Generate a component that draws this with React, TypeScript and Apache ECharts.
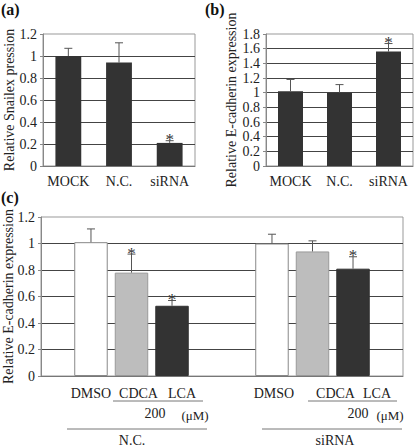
import React, { useEffect, useRef } from "react";
import * as echarts from "echarts";

// Panel (a)
const aCategories = ["MOCK", "N.C.", "siRNA"];
const aValues = [1.0, 0.94, 0.21];
const aErrTop = [1.07, 1.12, 0.23];
const aStars = [0, 0, 1];
const aTicks = { min: 0, max: 1.2, interval: 0.2 };

// Panel (b)
const bCategories = ["MOCK", "N.C.", "siRNA"];
const bValues = [1.02, 1.0, 1.56];
const bErrTop = [1.18, 1.11, 1.67];
const bStars = [0, 0, 1];
const bTicks = { min: 0, max: 1.8, interval: 0.2 };

// Panel (c)
const cGroups = ["N.C.", "siRNA"];
const cTreatments = ["DMSO", "CDCA", "LCA"];
const cDMSO = [1.01, 1.0];
const cCDCA = [0.78, 0.94];
const cLCA = [0.53, 0.81];
const cDMSOErr = [1.11, 1.07];
const cCDCAErr = [0.92, 1.02];
const cLCAErr = [0.57, 0.9];
const cDMSOStars = [0, 0];
const cCDCAStars = [1, 0];
const cLCAStars = [1, 1];
const cTicks = { min: 0, max: 1.2, interval: 0.2 };

const FONT = "Liberation Serif";
const BAR_W = 0.185;
const BAR_GAP = 0.21;
// horizontal label shifts (px) per treatment, per group — styling only
const cLabelShift = [
  [0, 2],
  [7, 23],
  [10, 24],
];

function errRender(params: any, api: any) {
  const cat = api.value(0);
  const val = api.value(1);
  const top = api.value(2);
  const k = api.value(3);
  const star = api.value(4);
  const p0 = api.coord([cat, val]);
  const p1 = api.coord([cat, top]);
  let dx = 0;
  if (k >= 0) {
    const band = api.size([1, 0])[0];
    const bw = band * BAR_W;
    dx = (k - 1) * bw * (1 + BAR_GAP);
  }
  const x = p0[0] + dx;
  const children: any[] = [
    { type: "line", shape: { x1: x, y1: p0[1], x2: x, y2: p1[1] }, style: { stroke: "#555", lineWidth: 1 } },
    { type: "line", shape: { x1: x - 4, y1: p1[1], x2: x + 4, y2: p1[1] }, style: { stroke: "#555", lineWidth: 1 } },
  ];
  if (star) {
    children.push({
      type: "text",
      style: { text: "*", x, y: p1[1] - 1, textAlign: "center", textVerticalAlign: "middle", fontSize: 17, fontFamily: FONT, fill: "#333" },
    });
  }
  return { type: "group", children };
}

function yAxisCfg(gridIndex: number, ticks: any, name: string, nameGap: number) {
  return {
    type: "value",
    gridIndex,
    min: ticks.min,
    max: ticks.max,
    interval: ticks.interval,
    name,
    nameLocation: "middle",
    nameGap,
    nameMoveOverlap: false,
    nameTextStyle: { fontSize: 14, fontFamily: FONT, color: "#222" },
    axisLine: { show: true, lineStyle: { color: "#888" } },
    axisTick: { show: true, length: 3, lineStyle: { color: "#888" } },
    axisLabel: { fontSize: 14, fontFamily: FONT, color: "#222", margin: 6 },
    splitLine: { show: true, showMinLine: false, showMaxLine: false, lineStyle: { color: "#444", width: 1 } },
  };
}

function xAxisCat(gridIndex: number, data: string[], showLabel: boolean) {
  return {
    type: "category",
    gridIndex,
    data,
    axisLine: { show: true, lineStyle: { color: "#777" } },
    axisTick: { show: false },
    axisLabel: { show: showLabel, interval: 0, fontSize: 14, fontFamily: FONT, color: "#222", margin: 8 },
  };
}

export default function App() {
  const ref = useRef<HTMLDivElement>(null);
  useEffect(() => {
    if (!ref.current) return;
    const chart = echarts.init(ref.current, undefined, { renderer: "svg" });
    const gridBox = {
      show: true,
      borderColor: "#999",
      borderWidth: 1,
      backgroundColor: "transparent",
      containLabel: false,
      outerBoundsMode: "none",
    };
    const cSeriesVals = [cDMSO, cCDCA, cLCA];
    const cSeriesErr = [cDMSOErr, cCDCAErr, cLCAErr];
    const cSeriesStars = [cDMSOStars, cCDCAStars, cLCAStars];
    const cStyles = [
      { color: "#ffffff", borderColor: "#888", borderWidth: 1 },
      { color: "#bdbdbd", borderColor: "#999", borderWidth: 1 },
      { color: "#333333", borderColor: "#333", borderWidth: 1 },
    ];
    const cBarSeries = cTreatments.map((t, k) => ({
      type: "bar",
      name: t,
      xAxisIndex: 2,
      yAxisIndex: 2,
      barWidth: BAR_W * 100 + "%",
      barGap: BAR_GAP * 100 + "%",
      itemStyle: cStyles[k],
      label: {
        show: true,
        position: "bottom",
        distance: 10,
        formatter: t,
        fontSize: 14,
        fontFamily: FONT,
        color: "#222",
      },
      data: cSeriesVals[k].map((v, g) => ({ value: v, label: { offset: [cLabelShift[k][g], 0] } })),
    }));
    const cErrData: any[] = [];
    cTreatments.forEach((t, k) => {
      cGroups.forEach((g, gi) => {
        cErrData.push([gi, cSeriesVals[k][gi], cSeriesErr[k][gi], k, cSeriesStars[k][gi]]);
      });
    });

    const lineStyle = { stroke: "#777", lineWidth: 1 };
    const txt = (text: string, x: number, y: number, size = 14) => ({
      type: "text",
      x,
      y,
      style: { text, fontSize: size, fontFamily: FONT, fill: "#222", textAlign: "center", textVerticalAlign: "middle" },
    });

    chart.setOption({
      animation: false,
      backgroundColor: "#ffffff",
      textStyle: { fontFamily: FONT },
      grid: [
        { left: 43, top: 34, width: 152, height: 132, ...gridBox },
        { left: 266, top: 34, width: 147, height: 132, ...gridBox },
        { left: 41, top: 217, width: 362, height: 159, ...gridBox },
      ],
      xAxis: [xAxisCat(0, aCategories, true), xAxisCat(1, bCategories, true), xAxisCat(2, cGroups, false)],
      yAxis: [
        yAxisCfg(0, aTicks, "Relative Snailex pression", 27),
        yAxisCfg(1, bTicks, "Relative E-cadherin expression", 28),
        yAxisCfg(2, cTicks, "Relative E-cadherin expression", 26),
      ],
      series: [
        {
          type: "bar",
          xAxisIndex: 0,
          yAxisIndex: 0,
          barWidth: "51%",
          itemStyle: { color: "#333333" },
          data: aValues,
        },
        {
          type: "custom",
          xAxisIndex: 0,
          yAxisIndex: 0,
          renderItem: errRender,
          data: aValues.map((v, i) => [i, v, aErrTop[i], -1, aStars[i]]),
          z: 5,
        },
        {
          type: "bar",
          xAxisIndex: 1,
          yAxisIndex: 1,
          barWidth: "51%",
          itemStyle: { color: "#333333" },
          data: bValues,
        },
        {
          type: "custom",
          xAxisIndex: 1,
          yAxisIndex: 1,
          renderItem: errRender,
          data: bValues.map((v, i) => [i, v, bErrTop[i], -1, bStars[i]]),
          z: 5,
        },
        ...cBarSeries,
        {
          type: "custom",
          xAxisIndex: 2,
          yAxisIndex: 2,
          renderItem: errRender,
          data: cErrData,
          z: 5,
        },
      ],
      graphic: [
        { type: "text", left: 1, top: 1, style: { text: "(a)", fontSize: 16, fontWeight: "bold", fontFamily: FONT, fill: "#111" } },
        { type: "text", left: 205, top: 1, style: { text: "(b)", fontSize: 16, fontWeight: "bold", fontFamily: FONT, fill: "#111" } },
        { type: "text", left: 1, top: 189, style: { text: "(c)", fontSize: 16, fontWeight: "bold", fontFamily: FONT, fill: "#111" } },
        { type: "line", shape: { x1: 113, y1: 401, x2: 203, y2: 401 }, style: lineStyle },
        { type: "line", shape: { x1: 67, y1: 429, x2: 207, y2: 429 }, style: lineStyle },
        { type: "line", shape: { x1: 308, y1: 401, x2: 397, y2: 401 }, style: lineStyle },
        { type: "line", shape: { x1: 262, y1: 429, x2: 402, y2: 429 }, style: lineStyle },
        txt("200", 155, 413),
        txt("(μM)", 195, 415, 13),
        txt("200", 358, 413),
        txt("(μM)", 390, 415, 13),
        txt("N.C.", 132, 440),
        txt("siRNA", 335, 440),
      ],
    });
    return () => chart.dispose();
  }, []);
  return (
    <div
      ref={ref}
      style={{ position: "fixed", left: 0, top: 0, width: 415, height: 447, background: "#fff" }}
    />
  );
}
